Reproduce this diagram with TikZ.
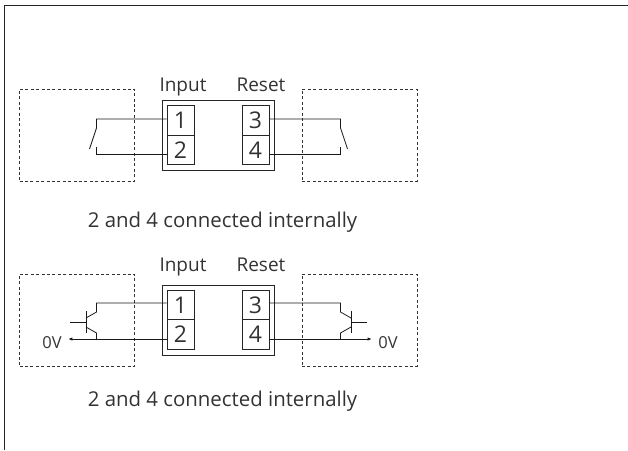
\documentclass[tikz,border=0pt]{standalone}
\usepackage{fontspec}
\setmainfont{Open Sans}
\usetikzlibrary{arrows.meta}
\definecolor{labelgray}{gray}{0.2}
\tikzset{
  frameline/.style={line width=1pt,black!85},
  dashbox/.style={draw=black!80,line width=0.7pt,dash pattern=on 3pt off 2.4pt,minimum width=115pt,minimum height=92pt,inner sep=0pt},
  housing/.style={draw=black!85,line width=0.8pt,minimum width=112pt,minimum height=70pt,inner sep=0pt},
  wire/.style={line width=0.8pt,black!90},
  terminal/.style={draw=black!85,line width=0.8pt,minimum width=27pt,minimum height=29.5pt,inner sep=0pt,font=\fontsize{23}{23}\selectfont,text=labelgray},
  label/.style={anchor=base,inner sep=0pt,font=\fontsize{19}{20}\selectfont,text=labelgray},
  caption/.style={anchor=base,inner sep=0pt,font=\fontsize{20.4}{21}\selectfont,text=labelgray},
  small/.style={anchor=base,inner sep=6.5pt,font=\fontsize{16.5}{17}\selectfont,text=labelgray},
}
\begin{document}
\begin{tikzpicture}[x=1pt,y=-1pt]
  \useasboundingbox (0,0) rectangle (628,450);
  \coordinate (FA) at (628,5);
  \coordinate (FB) at (4.5,5);
  \coordinate (FC) at (4.5,450);
  \draw[frameline] (FA) -- (FB) -- (FC);

  % switch version
  \node[dashbox] (leftA) at (77,135) {};
  \node[dashbox] (rightA) at (359.5,135) {};
  \node[housing] (boxA) at (218,135.5) {};
  \node[terminal] (a1) at (180.5,120.5) {1};
  \node[terminal] (a2) at (180.5,150) {2};
  \node[terminal] (a3) at (255.5,120.5) {3};
  \node[terminal] (a4) at (255.5,150) {4};
  \node[label] (inA) at (183,91) {Input};
  \node[label] (reA) at (261,91.5) {Reset};
  \node[caption] (capA) at (222.5,227) {2 and 4 connected internally};

  \coordinate (sa1) at (96.5,119);
  \coordinate (sa2) at (96.5,128);
  \coordinate (sa3) at (89.5,149);
  \coordinate (sa4) at (96.5,147);
  \coordinate (sa5) at (96.5,154.5);
  \coordinate (sb1) at (340.5,119);
  \coordinate (sb2) at (340.5,128);
  \coordinate (sb3) at (347.5,149);
  \coordinate (sb4) at (340.5,147);
  \coordinate (sb5) at (340.5,154.5);
  \draw[wire] (a1.west|-sa1) -- (sa1) -- (sa2) -- (sa3);
  \draw[wire] (a2.west|-sa5) -- (sa5) -- (sa4);
  \draw[wire] (a3.east|-sb1) -- (sb1) -- (sb2) -- (sb3);
  \draw[wire] (a4.east|-sb5) -- (sb5) -- (sb4);

  % transistor version
  \node[dashbox] (leftB) at (77,320) {};
  \node[dashbox] (rightB) at (359.5,320) {};
  \node[housing] (boxB) at (218,320) {};
  \node[terminal] (b1) at (180.5,305) {1};
  \node[terminal] (b2) at (180.5,334.5) {2};
  \node[terminal] (b3) at (255.5,305) {3};
  \node[terminal] (b4) at (255.5,334.5) {4};
  \node[label] (inB) at (183,271) {Input};
  \node[label] (reB) at (261,271.5) {Reset};
  \node[caption] (capB) at (222.5,406) {2 and 4 connected internally};
  \node[small] (zeroL) at (52,348) {0V};
  \node[small] (zeroR) at (388,348) {0V};

  \coordinate (ta1) at (96.5,303);
  \coordinate (ta2) at (96.5,312);
  \coordinate (ta3) at (86,318);
  \coordinate (ta4) at (86,327);
  \coordinate (ta5) at (96.5,333);
  \coordinate (ta6) at (96.5,339);
  \coordinate (ta7) at (86,311);
  \coordinate (ta8) at (86,333);
  \coordinate (ta9) at (70,322);
  \coordinate (tb1) at (340.5,303);
  \coordinate (tb2) at (340.5,312);
  \coordinate (tb3) at (351,318);
  \coordinate (tb4) at (351,327);
  \coordinate (tb5) at (340.5,333);
  \coordinate (tb6) at (340.5,339);
  \coordinate (tb7) at (351,311);
  \coordinate (tb8) at (351,333);
  \coordinate (tb9) at (367,322);
  \draw[wire] (b1.west|-ta1) -- (ta1) -- (ta2) -- (ta3);
  \draw[wire] (ta4) -- (ta5) -- (ta6);
  \draw[wire] (ta7) -- (ta8);
  \draw[wire] (ta9) -- (ta9-|ta7);
  \draw[wire,-{Latex[length=4pt,width=3.5pt]}] (b2.west|-ta6) -- (zeroL.east|-ta6);
  \draw[wire] (b3.east|-tb1) -- (tb1) -- (tb2) -- (tb3);
  \draw[wire] (tb4) -- (tb5) -- (tb6);
  \draw[wire] (tb7) -- (tb8);
  \draw[wire] (tb9) -- (tb9-|tb7);
  \draw[wire,-{Latex[length=4pt,width=3.5pt]}] (b4.east|-tb6) -- (zeroR.west|-tb6);
\end{tikzpicture}
\end{document}
